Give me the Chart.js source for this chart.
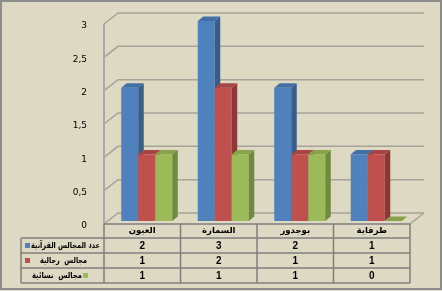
<!DOCTYPE html>
<html>
<head>
<meta charset="utf-8">
<script src="https://cdn.jsdelivr.net/npm/chart.js@4"></script>
<style>
  html, body { margin: 0; padding: 0; background: #DDD9C3; }
  canvas { display: block; }
</style>
</head>
<body>
<canvas id="barChart" width="442" height="291"></canvas>
<script>
// chart data
const categories = ["العيون", "السمارة", "بوجدور", "طرفاية"];
const seriesNames = ["عدد المجالس القرآنية", "مجالس  رجالية", "مجالس  نسائية"];
const quranCouncils = [2, 3, 2, 1];
const menCouncils = [1, 2, 1, 1];
const womenCouncils = [1, 1, 1, 0];
const seriesColors = ["#4F81BD", "#C0504D", "#9BBB59"];
const sideColors = ["#385D8A", "#8C3836", "#71893E"];
const topColors = ["#4270A6", "#A84442", "#87A44B"];

// 3D look
const DEPTH_X = 14, DEPTH_Y = -11;   // box depth
const BAR_DX = 5.5, BAR_DY = -4.4;   // bar depth
const BAR_OFF_X = 4.5, BAR_OFF_Y = -3;
const gridColor = "#A6A39A";
const tableColor = "#7F7F7F";

const boxPlugin = {
    id: "box3d",
    beforeDatasetsDraw(chart) {
        const ctx = chart.ctx;
        const a = chart.chartArea;
        const y = chart.scales.y;
        ctx.save();
        ctx.strokeStyle = gridColor;
        ctx.lineWidth = 1.5;
        y.ticks.forEach(function (t) {
            const py = y.getPixelForValue(t.value);
            ctx.beginPath();
            ctx.moveTo(a.left, py);
            ctx.lineTo(a.left + DEPTH_X, py + DEPTH_Y);
            ctx.lineTo(a.right + DEPTH_X, py + DEPTH_Y);
            ctx.stroke();
        });
        // floor right edge
        ctx.beginPath();
        ctx.moveTo(a.right, a.bottom);
        ctx.lineTo(a.right + DEPTH_X, a.bottom + DEPTH_Y);
        ctx.stroke();
        // front axis line
        ctx.lineWidth = 2;
        ctx.strokeStyle = "#A9A9A9";
        ctx.beginPath();
        ctx.moveTo(a.left, a.top);
        ctx.lineTo(a.left, a.bottom);
        ctx.stroke();
        ctx.restore();
        return false;
    },
    afterDraw(chart) {
        const ctx = chart.ctx;
        const a = chart.chartArea;
        const xs = chart.scales.x;
        ctx.save();

        // bars, drawn left to right so fronts cover neighbours' sides
        for (let i = 0; i < categories.length; i++) {
            for (let d = 0; d < chart.data.datasets.length; d++) {
                const el = chart.getDatasetMeta(d).data[i];
                const p = el.getProps(["x", "y", "base", "width"], true);
                const l = p.x - p.width / 2 + BAR_OFF_X;
                const r = l + p.width;
                const t = p.y + BAR_OFF_Y;
                const b = p.base + BAR_OFF_Y;
                ctx.fillStyle = seriesColors[d];
                ctx.fillRect(l, t, r - l, b - t);
                ctx.fillStyle = sideColors[d];
                ctx.beginPath();
                ctx.moveTo(r, t);
                ctx.lineTo(r + BAR_DX, t + BAR_DY);
                ctx.lineTo(r + BAR_DX, b + BAR_DY);
                ctx.lineTo(r, b);
                ctx.closePath();
                ctx.fill();
                ctx.fillStyle = topColors[d];
                ctx.beginPath();
                ctx.moveTo(l, t);
                ctx.lineTo(l + BAR_DX, t + BAR_DY);
                ctx.lineTo(r + BAR_DX, t + BAR_DY);
                ctx.lineTo(r, t);
                ctx.closePath();
                ctx.fill();
            }
        }

        // data table
        const colW = xs.width / categories.length;
        const rows = [a.bottom, 238, 253, 268, 283];
        const tableLeft = 21;
        ctx.strokeStyle = tableColor;
        ctx.lineWidth = 1.5;
        ctx.beginPath();
        ctx.moveTo(a.left, rows[0]);
        ctx.lineTo(a.right, rows[0]);
        for (let r = 1; r < rows.length; r++) {
            ctx.moveTo(tableLeft, rows[r]);
            ctx.lineTo(a.right, rows[r]);
        }
        ctx.moveTo(tableLeft, rows[1]);
        ctx.lineTo(tableLeft, rows[4]);
        for (let i = 0; i <= categories.length; i++) {
            const cx = a.left + i * colW;
            ctx.moveTo(cx, rows[0]);
            ctx.lineTo(cx, rows[4]);
        }
        ctx.stroke();

        ctx.fillStyle = "#000";
        ctx.textAlign = "center";
        ctx.textBaseline = "middle";
        ctx.font = "bold 8.5px 'DejaVu Sans'";
        categories.forEach(function (c, i) {
            ctx.fillText(c, xs.getPixelForValue(i), 231);
        });
        ctx.font = "bold 10px 'Liberation Sans'";
        chart.data.datasets.forEach(function (ds, d) {
            const ry = (rows[d + 1] + rows[d + 2]) / 2;
            ds.data.forEach(function (v, i) {
                ctx.fillText(String(v), xs.getPixelForValue(i), ry + 0.5);
            });
        });

        // legend keys + series names
        const keyX = [25, 25, 83];
        const textLeft = [31, 40, 32];
        const textRight = [100, 87, 82];
        ctx.font = "bold 8.5px 'DejaVu Sans'";
        ctx.textAlign = "center";
        seriesNames.forEach(function (n, d) {
            const ry = (rows[d + 1] + rows[d + 2]) / 2;
            ctx.fillStyle = seriesColors[d];
            ctx.fillRect(keyX[d], ry - 2.5, 5, 5);
            ctx.fillStyle = "#000";
            const w = textRight[d] - textLeft[d];
            ctx.fillText(n, (textLeft[d] + textRight[d]) / 2, ry, w);
        });

        // outer frame
        ctx.strokeStyle = "#8C8C8C";
        ctx.lineWidth = 2;
        ctx.strokeRect(1, 1, 440, 288);
        ctx.restore();
    }
};

const ctx1 = document.getElementById("barChart").getContext("2d");
new Chart(ctx1, {
    type: "bar",
    data: {
        labels: categories,
        datasets: [
            { label: seriesNames[0], data: quranCouncils, backgroundColor: seriesColors[0] },
            { label: seriesNames[1], data: menCouncils, backgroundColor: seriesColors[1] },
            { label: seriesNames[2], data: womenCouncils, backgroundColor: seriesColors[2] }
        ]
    },
    options: {
        responsive: false,
        animation: false,
        layout: { padding: { top: 24, bottom: 67, right: 32, left: 0 } },
        datasets: { bar: { categoryPercentage: 0.667, barPercentage: 1 } },
        plugins: { legend: { display: false }, tooltip: { enabled: false } },
        scales: {
            x: { display: false },
            y: {
                min: 0,
                max: 3,
                grid: { display: false },
                border: { display: false },
                ticks: {
                    stepSize: 0.5,
                    padding: 9,
                    labelOffset: 2,
                    color: "#000",
                    font: { family: "DejaVu Sans", size: 9 },
                    callback: function (v) { return String(v).replace(".", ","); }
                },
                afterFit: function (s) { s.width = 104; }
            }
        }
    },
    plugins: [boxPlugin]
});
</script>
</body>
</html>
